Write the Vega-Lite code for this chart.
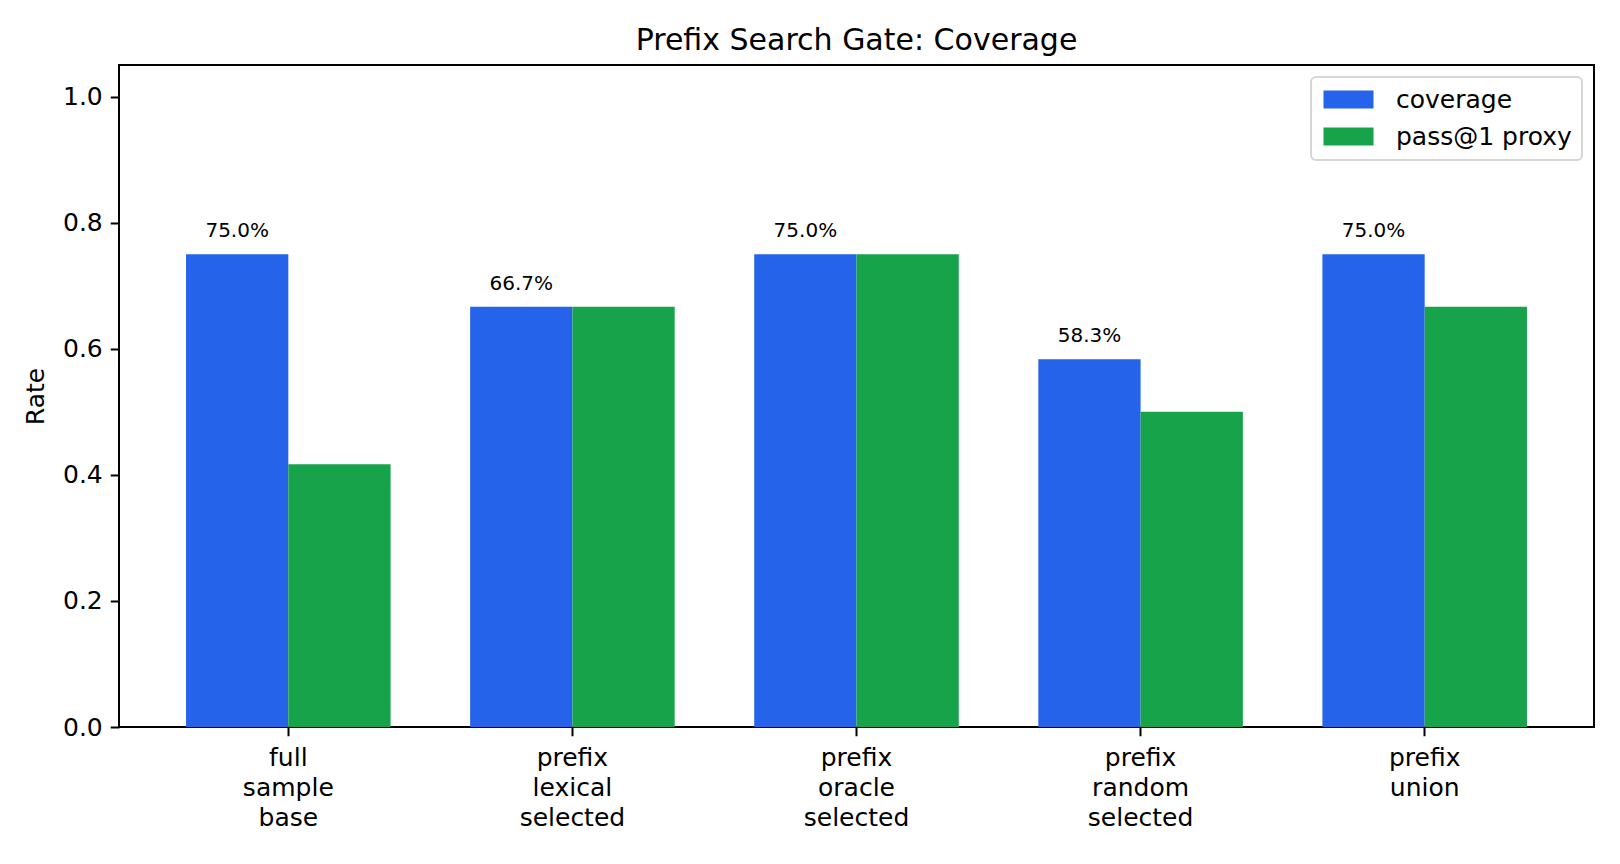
{
  "$schema": "https://vega.github.io/schema/vega-lite/v6.json",
  "width": 1475,
  "height": 662,
  "autosize": {"type": "none"},
  "padding": {"left": 119, "top": 65, "right": 26, "bottom": 137},
  "background": "white",
  "title": {
    "text": "Prefix Search Gate: Coverage",
    "fontSize": 30,
    "font": "DejaVu Sans",
    "fontWeight": "normal",
    "color": "black",
    "baseline": "alphabetic",
    "offset": 15,
    "dy": 30,
    "anchor": "middle"
  },
  "config": {
    "view": {"stroke": "black", "strokeWidth": 2},
    "font": "DejaVu Sans",
    "axis": {
      "labelFont": "DejaVu Sans",
      "titleFont": "DejaVu Sans",
      "labelColor": "black",
      "titleColor": "black",
      "tickColor": "black",
      "tickWidth": 2,
      "tickSize": 8.75,
      "domain": false,
      "grid": false,
      "labelFontSize": 25,
      "titleFontSize": 25,
      "titleFontWeight": "normal",
      "labelPadding": 8
    },
    "legend": {
      "labelFont": "DejaVu Sans",
      "labelFontSize": 25,
      "labelColor": "black",
      "strokeWidth": 2
    }
  },
  "data": {
    "values": [
      {"method": "full sample base", "series": "coverage", "value": 0.75},
      {"method": "full sample base", "series": "pass@1 proxy", "value": 0.4167},
      {"method": "prefix lexical selected", "series": "coverage", "value": 0.6667},
      {"method": "prefix lexical selected", "series": "pass@1 proxy", "value": 0.6667},
      {"method": "prefix oracle selected", "series": "coverage", "value": 0.75},
      {"method": "prefix oracle selected", "series": "pass@1 proxy", "value": 0.75},
      {"method": "prefix random selected", "series": "coverage", "value": 0.5833},
      {"method": "prefix random selected", "series": "pass@1 proxy", "value": 0.5},
      {"method": "prefix union", "series": "coverage", "value": 0.75},
      {"method": "prefix union", "series": "pass@1 proxy", "value": 0.6667}
    ]
  },
  "encoding": {
    "x": {
      "field": "method",
      "type": "nominal",
      "sort": ["full sample base", "prefix lexical selected", "prefix oracle selected", "prefix random selected", "prefix union"],
      "scale": {"paddingInner": 0.28, "paddingOuter": 0.236},
      "axis": {
        "title": null,
        "labelAngle": 0,
        "labelExpr": "split(datum.label, ' ')",
        "labelLineHeight": 30,
        "labelBaseline": "top",
        "labelPadding": 10,
        "labelOverlap": false,
        "labelLimit": 0
      }
    },
    "xOffset": {
      "field": "series",
      "type": "nominal",
      "scale": {"domain": ["coverage", "pass@1 proxy"], "paddingInner": 0, "paddingOuter": 0}
    },
    "y": {
      "field": "value",
      "type": "quantitative",
      "scale": {"domain": [0, 1.05], "nice": false, "zero": true},
      "axis": {
        "title": "Rate",
        "values": [0, 0.2, 0.4, 0.6, 0.8, 1.0],
        "format": ".1f",
        "titlePadding": 14
      }
    }
  },
  "layer": [
    {
      "mark": {"type": "bar"},
      "encoding": {
        "color": {
          "field": "series",
          "type": "nominal",
          "scale": {"domain": ["coverage", "pass@1 proxy"], "range": ["#2563eb", "#16a34a"]},
          "legend": {
            "title": null,
            "orient": "top-right",
            "offset": 12,
            "fillColor": "white",
            "strokeColor": "#d6d6d6",
            "cornerRadius": 5,
            "padding": 10,
            "symbolType": "M-1,-0.9L4,-0.9L4,0.9L-1,0.9Z",
            "symbolSize": 400,
            "symbolStrokeWidth": 0,
            "symbolOpacity": 1,
            "labelOffset": 50,
            "labelLimit": 0,
            "rowPadding": 11
          }
        }
      }
    },
    {
      "transform": [{"filter": "datum.series === 'coverage'"}],
      "mark": {"type": "text", "fontSize": 20, "baseline": "alphabetic", "align": "center", "dy": -17, "color": "black", "font": "DejaVu Sans"},
      "encoding": {
        "text": {"field": "value", "type": "quantitative", "format": ".1%"}
      }
    }
  ]
}
